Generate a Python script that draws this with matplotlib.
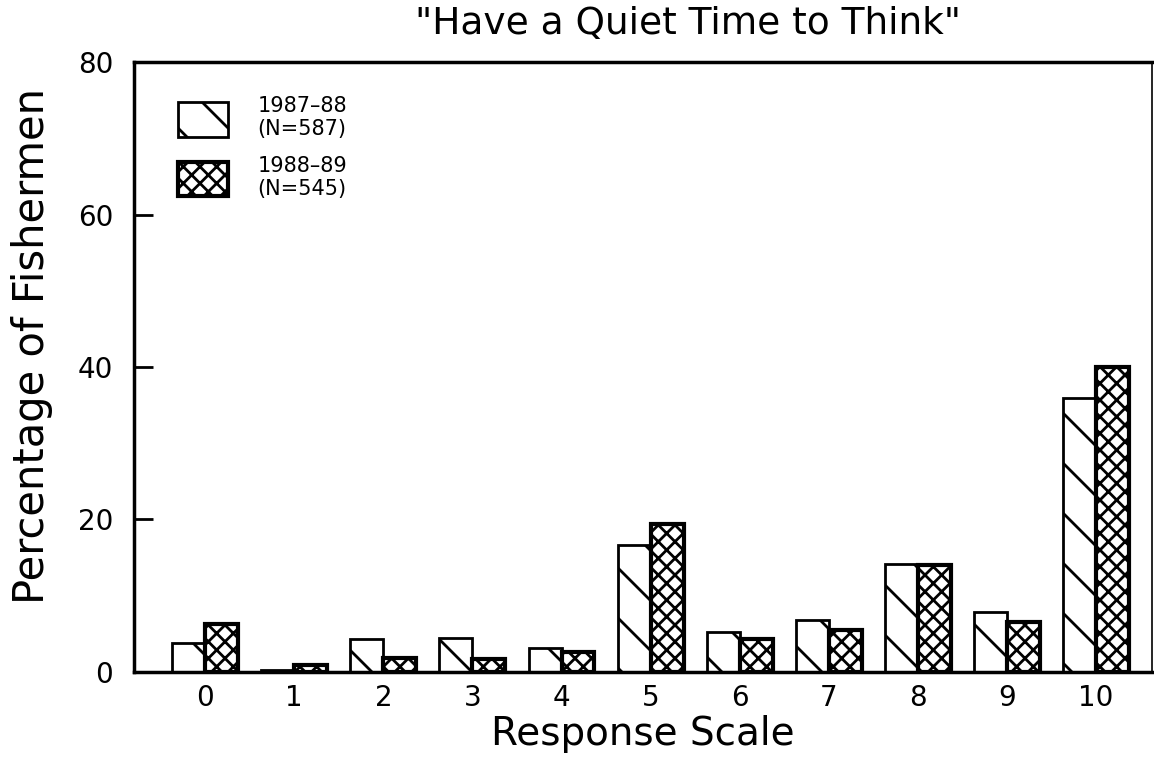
import numpy as np
import matplotlib
matplotlib.use("Agg")
import matplotlib.pyplot as plt
import matplotlib.hatch as mhatch

# response scale categories and percentages
scale = [0, 1, 2, 3, 4, 5, 6, 7, 8, 9, 10]
pct_8788 = [3.8, 0.3, 4.3, 4.5, 3.1, 16.6, 5.3, 6.8, 14.2, 7.8, 35.9]
pct_8889 = [6.3, 0.9, 1.8, 1.7, 2.6, 19.4, 4.3, 5.5, 14.0, 6.5, 40.0]
labels = ["1987–88\n(N=587)", "1988–89\n(N=545)"]
yticks = [0, 20, 40, 60, 80]


# the single diagonal hatch in the original is much sparser than matplotlib's
_se_init = mhatch.SouthEastHatch.__init__


def sparse_se_init(self, hatch, density):
    _se_init(self, hatch, density)
    if hatch.count('\\') and not (hatch.count('x') or hatch.count('X')):
        self.num_lines = 4
        self.num_vertices = (self.num_lines + 1) * 2


mhatch.SouthEastHatch.__init__ = sparse_se_init

plt.rcParams['font.family'] = 'DejaVu Sans'
plt.rcParams['hatch.linewidth'] = 2.0
plt.rcParams['hatch.color'] = 'black'

fig = plt.figure(figsize=(11.54, 7.61), dpi=100)
ax = fig.add_axes([0.1161, 0.117, 0.8822, 0.8015])

x = np.arange(len(scale))
w = 0.37
ax.bar(x - w / 2, pct_8788, w, facecolor='white', edgecolor='black',
       linewidth=2, hatch='\\', label=labels[0])
ax.bar(x + w / 2, pct_8889, w, facecolor='white', edgecolor='black',
       linewidth=3, hatch='xx', label=labels[1])

ax.set_xlim(-0.80, 10.63)
ax.set_ylim(0, 80)
ax.set_xticks(x)
ax.set_xticklabels([str(s) for s in scale])
ax.set_yticks(yticks)
ax.tick_params(axis='x', length=0, labelsize=20, pad=9)
ax.tick_params(axis='y', direction='in', length=14, width=2, labelsize=20, pad=15)

for side in ['left', 'bottom', 'top']:
    ax.spines[side].set_linewidth(2.5)
ax.spines['right'].set_linewidth(1.2)

ax.set_title('"Have a Quiet Time to Think"', fontsize=27, pad=20, x=0.544)
ax.set_xlabel('Response Scale', fontsize=28, labelpad=2)
ax.set_ylabel('Percentage of Fishermen', fontsize=30)
ax.yaxis.set_label_coords(-0.08, 0.535)

ax.legend(loc='upper left', bbox_to_anchor=(0.025, 0.975), frameon=False,
          fontsize=15, handlelength=2.4, handleheight=2.2, labelspacing=0.8,
          handletextpad=1.4)

fig.savefig('out.png', dpi=100)
